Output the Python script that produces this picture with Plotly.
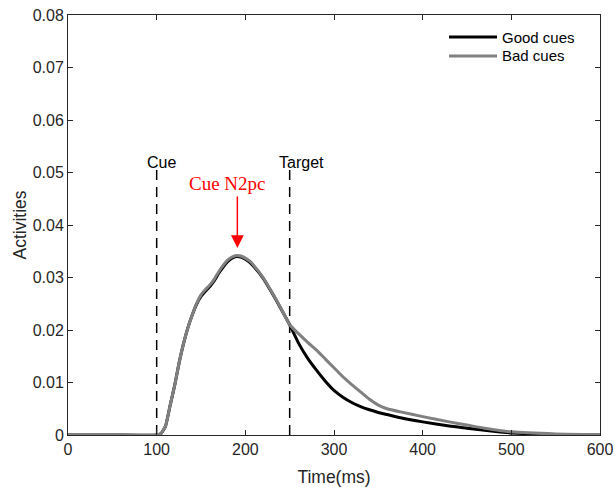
import plotly.graph_objects as go

# Time axis (ms) and activities
time_ms = [0, 50, 100, 105, 110, 115, 120, 125, 130, 135, 140, 145, 150, 155, 160, 165, 170,
           175, 180, 185, 190, 195, 200, 205, 210, 220, 230, 240, 250, 260, 270, 280, 290,
           300, 310, 320, 330, 340, 350, 360, 375, 400, 430, 450, 470, 500, 550, 600]
good_cues = [0, 0, 0, 0.0003, 0.0017, 0.0055, 0.0092, 0.0135, 0.0172, 0.0203, 0.0228, 0.0249,
             0.0264, 0.0274, 0.0283, 0.0294, 0.0308, 0.0320, 0.0330, 0.0337, 0.0340, 0.0339,
             0.0335, 0.0329, 0.0320, 0.0299, 0.0271, 0.0241, 0.0210, 0.0175, 0.0147, 0.0124,
             0.0103, 0.0085, 0.0072, 0.0062, 0.0054, 0.0048, 0.0043, 0.0039, 0.0033, 0.0025,
             0.0017, 0.0013, 0.0009, 0.0004, 0.0001, 0.0]
bad_cues = [0, 0, 0, 0.0003, 0.0017, 0.0055, 0.0092, 0.0135, 0.0172, 0.0203, 0.0228, 0.0250,
            0.0267, 0.0277, 0.0286, 0.0297, 0.0311, 0.0323, 0.0333, 0.0339, 0.0342, 0.0341,
            0.0337, 0.0331, 0.0322, 0.0300, 0.0272, 0.0242, 0.0210, 0.0193, 0.0177, 0.0162,
            0.0145, 0.0128, 0.0111, 0.0096, 0.0082, 0.0068, 0.0057, 0.0050, 0.0044, 0.0035,
            0.0025, 0.0019, 0.0013, 0.0006, 0.0002, 0.0001]
series_names = ["Good cues", "Bad cues"]
series_colors = ["black", "#808080"]

event_times = [100, 250]
event_labels = ["Cue", "Target"]
event_label_x = [105.7, 262.8]
event_label_y = 0.0519
event_line_top = 0.0505

x_ticks = [0, 100, 200, 300, 400, 500, 600]
y_ticks = [0, 0.01, 0.02, 0.03, 0.04, 0.05, 0.06, 0.07, 0.08]
y_tick_labels = ["0", "0.01", "0.02", "0.03", "0.04", "0.05", "0.06", "0.07", "0.08"]

n2pc_label = "Cue N2pc"
n2pc_label_x = 179.5
n2pc_label_y = 0.0479
n2pc_time = 191
n2pc_tail_y = 0.0457
n2pc_tip_y = 0.0356

axis_color = "#262626"
font_family = "Liberation Sans, Arial, sans-serif"

fig = go.Figure()

for t in event_times:
    fig.add_trace(go.Scatter(x=[t, t], y=[0, event_line_top], mode="lines",
                             line=dict(color="black", width=1.5, dash="10px,7px"),
                             showlegend=False, hoverinfo="skip"))

for vals, name, col in zip([good_cues, bad_cues], series_names, series_colors):
    fig.add_trace(go.Scatter(x=time_ms, y=vals, mode="lines", name=name, showlegend=False,
                             line=dict(color=col, width=3, shape="spline", smoothing=0.5)))

annotations = []
for lx, lab in zip(event_label_x, event_labels):
    annotations.append(dict(x=lx, y=event_label_y, xref="x", yref="y", text=lab,
                            showarrow=False, font=dict(size=16, color="black", family=font_family)))

annotations.append(dict(x=n2pc_label_x, y=n2pc_label_y, xref="x", yref="y", text=n2pc_label,
                        showarrow=False, font=dict(size=19, color="red",
                                                   family="Liberation Serif, Cambria, serif")))
annotations.append(dict(x=n2pc_time, y=n2pc_tip_y, xref="x", yref="y",
                        ax=n2pc_time, ay=n2pc_tail_y, axref="x", ayref="y", text="",
                        showarrow=True, arrowhead=2, arrowsize=1.7, arrowwidth=1.5,
                        arrowcolor="red"))

# manual legend (MATLAB-style, no box)
legend_x0, legend_x1, legend_tx = 0.7162, 0.8064, 0.812
legend_ys = [0.9476, 0.9024]
shapes = []
for name, col, ly in zip(series_names, series_colors, legend_ys):
    shapes.append(dict(type="line", xref="paper", yref="paper", x0=legend_x0, x1=legend_x1,
                       y0=ly, y1=ly, line=dict(color=col, width=3)))
    annotations.append(dict(x=legend_tx, y=ly, xref="paper", yref="paper", text=name,
                            xanchor="left", yanchor="middle", showarrow=False,
                            font=dict(size=15, color="black", family=font_family)))

fig.update_layout(
    width=614, height=487,
    margin=dict(l=68, r=14, t=15, b=52),
    plot_bgcolor="white", paper_bgcolor="white",
    font=dict(family=font_family, size=16, color=axis_color),
    annotations=annotations,
    shapes=shapes,
    showlegend=False,
)

fig.update_xaxes(range=[0, 600], tickvals=x_ticks, ticks="inside", ticklen=5,
                 showline=True, linecolor=axis_color, linewidth=1, mirror="ticks",
                 showgrid=False, zeroline=False, tickcolor=axis_color, automargin=False,
                 title=dict(text="Time(ms)", font=dict(size=17.5, color=axis_color), standoff=14),
                 tickfont=dict(size=16, color=axis_color))
fig.update_yaxes(range=[0, 0.08], tickvals=y_ticks, ticktext=y_tick_labels, ticks="inside",
                 ticklen=5, showline=True, linecolor=axis_color, linewidth=1, mirror="ticks",
                 showgrid=False, zeroline=False, tickcolor=axis_color, automargin=False,
                 title=dict(text="Activities", font=dict(size=17.5, color=axis_color), standoff=1),
                 tickfont=dict(size=16, color=axis_color))

fig.write_html("out.html")
